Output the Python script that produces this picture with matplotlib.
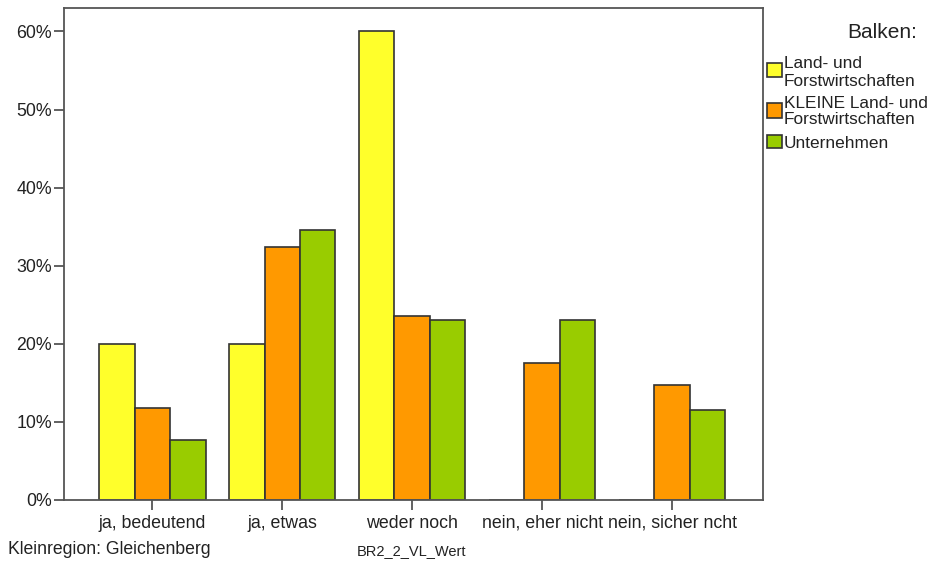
import matplotlib
matplotlib.use("Agg")
import matplotlib.pyplot as plt
from matplotlib.patches import Rectangle
import numpy as np

plt.rcParams['font.family'] = ['Liberation Sans', 'DejaVu Sans']

categories = ["ja, bedeutend", "ja, etwas", "weder noch", "nein, eher nicht", "nein, sicher ncht"]
series_names = ["Land- und\nForstwirtschaften", "KLEINE Land- und\nForstwirtschaften", "Unternehmen"]
land = [20.0, 20.0, 60.0, 0.0, 0.0]
kleine = [11.8, 32.4, 23.5, 17.6, 14.7]
unternehmen = [7.7, 34.6, 23.1, 23.1, 11.5]
colors = ["#FFFF2B", "#FF9900", "#99CC00"]
yticks = [0, 10, 20, 30, 40, 50, 60]

W, H = 934, 565
fig = plt.figure(figsize=(W/100, H/100), dpi=100)
ax = fig.add_axes([64/W, 1-500/H, (763-64)/W, (500-8)/H])

x = np.arange(len(categories))
w = 0.273
for i, (vals, name, c) in enumerate(zip([land, kleine, unternehmen], series_names, colors)):
    ax.bar(x + (i-1)*w, vals, width=w, color=c, edgecolor="#333333", linewidth=1.2, label=name, zorder=2)

ax.set_xlim(-0.68, 4.70)
ax.set_ylim(0, 63)
ax.set_xticks(x)
ax.set_xticklabels(categories, fontsize=12.8, color="#222222")
ax.set_yticks(yticks)
ax.set_yticklabels([f"{v}%" for v in yticks], fontsize=12.8, color="#222222")
for s in ax.spines.values():
    s.set_color("#555555")
    s.set_linewidth(1.3)
ax.tick_params(axis='both', direction='out', length=7.5, width=1.3, color="#555555")
ax.tick_params(axis='y', pad=1)
ax.tick_params(axis='x', pad=3)

# Legend drawn manually
def fy(py):
    return 1 - py/H

fig.text(917/W, fy(32), "Balken:", fontsize=15, ha="right", va="center", color="#222222")
patch_y = [(63, 77), (103, 118), (135, 148)]
line_y = [[64, 81], [103, 120], [143]]
for name, c, (y0, y1), ly in zip(series_names, colors, patch_y, line_y):
    fig.patches.append(Rectangle((767/W, fy(y1)), 15/W, (y1-y0)/H, transform=fig.transFigure,
                                 facecolor=c, edgecolor="#333333", linewidth=1.2))
    for line, yy in zip(name.split("\n"), ly):
        fig.text(784/W, fy(yy), line, fontsize=12.4, ha="left", va="center", color="#222222")

fig.text(8/W, fy(550), "Kleinregion: Gleichenberg", fontsize=12.7, va="center", ha="left", color="#222222")
fig.text(412/W, fy(551), "BR2_2_VL_Wert", fontsize=10.5, va="center", ha="center", color="#222222")

fig.savefig("out.png", dpi=100)
